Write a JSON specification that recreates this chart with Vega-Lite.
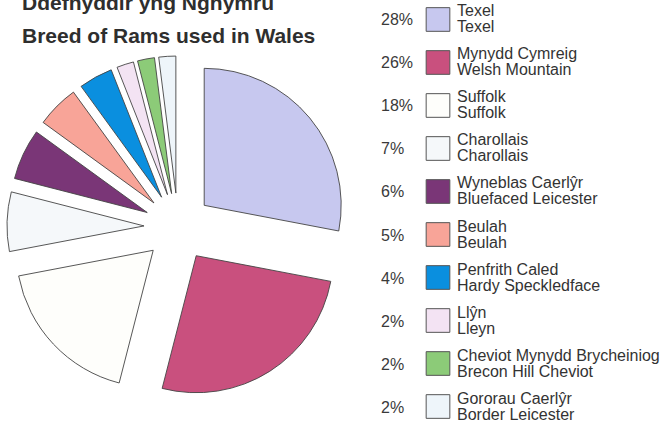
{
  "$schema": "https://vega.github.io/schema/vega-lite/v6.json",
  "background": "white",
  "padding": {"left": 0, "right": 0, "top": -7, "bottom": 0},
  "config": {
    "view": {"stroke": null},
    "font": "Liberation Sans"
  },
  "data": {
    "values": [
      {"rank": 1, "welsh": "Texel", "english": "Texel", "share": 0.28},
      {"rank": 2, "welsh": "Mynydd Cymreig", "english": "Welsh Mountain", "share": 0.26},
      {"rank": 3, "welsh": "Suffolk", "english": "Suffolk", "share": 0.18},
      {"rank": 4, "welsh": "Charollais", "english": "Charollais", "share": 0.07},
      {"rank": 5, "welsh": "Wyneblas Caerlŷr", "english": "Bluefaced Leicester", "share": 0.06},
      {"rank": 6, "welsh": "Beulah", "english": "Beulah", "share": 0.05},
      {"rank": 7, "welsh": "Penfrith Caled", "english": "Hardy Speckledface", "share": 0.04},
      {"rank": 8, "welsh": "Llŷn", "english": "Lleyn", "share": 0.02},
      {"rank": 9, "welsh": "Cheviot Mynydd Brycheiniog", "english": "Brecon Hill Cheviot", "share": 0.02},
      {"rank": 10, "welsh": "Gororau Caerlŷr", "english": "Border Leicester", "share": 0.02}
    ]
  },
  "spacing": 20,
  "hconcat": [
    {
      "width": 356,
      "height": 452,
      "title": {
        "text": ["Ddefnyddir yng Nghymru", "Breed of Rams used in Wales"],
        "anchor": "start",
        "dx": 22,
        "fontSize": 21,
        "fontWeight": "bold",
        "lineHeight": 33,
        "color": "#2e2e2e",
        "offset": -46
      },
      "mark": {
        "type": "arc",
        "outerRadius": 137,
        "stroke": "#444444",
        "strokeWidth": 0.9,
        "xOffset": {"expr": "34*sin(PI*(datum.share_start+datum.share_end))"},
        "yOffset": {"expr": "-34*cos(PI*(datum.share_start+datum.share_end))"}
      },
      "encoding": {
        "theta": {"field": "share", "type": "quantitative", "stack": true},
        "order": {"field": "rank", "type": "quantitative"},
        "color": {
          "field": "english",
          "type": "nominal",
          "scale": {
            "domain": ["Texel", "Welsh Mountain", "Suffolk", "Charollais", "Bluefaced Leicester", "Beulah", "Hardy Speckledface", "Lleyn", "Brecon Hill Cheviot", "Border Leicester"],
            "range": ["#c7c8ef", "#c9507e", "#fefefb", "#f5f8fa", "#7a3677", "#f8a498", "#0a8fdf", "#f3e3f3", "#8ccb78", "#eef5fa"]
          },
          "legend": null
        }
      }
    },
    {
      "width": 124,
      "height": 424,
      "encoding": {
        "y": {
          "field": "english",
          "type": "nominal",
          "sort": {"field": "rank", "op": "min"},
          "scale": {"type": "point", "padding": 0.43},
          "axis": null
        }
      },
      "layer": [
        {
          "mark": {"type": "square", "size": 560, "filled": true, "opacity": 1, "stroke": "#555555", "strokeWidth": 1},
          "encoding": {
            "color": {
              "field": "english",
              "type": "nominal",
              "scale": {
                "domain": ["Texel", "Welsh Mountain", "Suffolk", "Charollais", "Bluefaced Leicester", "Beulah", "Hardy Speckledface", "Lleyn", "Brecon Hill Cheviot", "Border Leicester"],
                "range": ["#c7c8ef", "#c9507e", "#fefefb", "#f5f8fa", "#7a3677", "#f8a498", "#0a8fdf", "#f3e3f3", "#8ccb78", "#eef5fa"]
              },
              "legend": null
            }
          }
        },
        {
          "mark": {"type": "text", "align": "left", "baseline": "alphabetic", "dx": -57, "dy": 6, "fontSize": 16, "color": "#3a3a3a"},
          "encoding": {"text": {"field": "share", "type": "quantitative", "format": ".0%"}}
        },
        {
          "mark": {"type": "text", "align": "left", "baseline": "alphabetic", "dx": 19, "dy": -3, "fontSize": 16, "color": "#333333"},
          "encoding": {"text": {"field": "welsh", "type": "nominal"}}
        },
        {
          "mark": {"type": "text", "align": "left", "baseline": "alphabetic", "dx": 19, "dy": 13, "fontSize": 16, "color": "#333333"},
          "encoding": {"text": {"field": "english", "type": "nominal"}}
        }
      ]
    }
  ]
}
